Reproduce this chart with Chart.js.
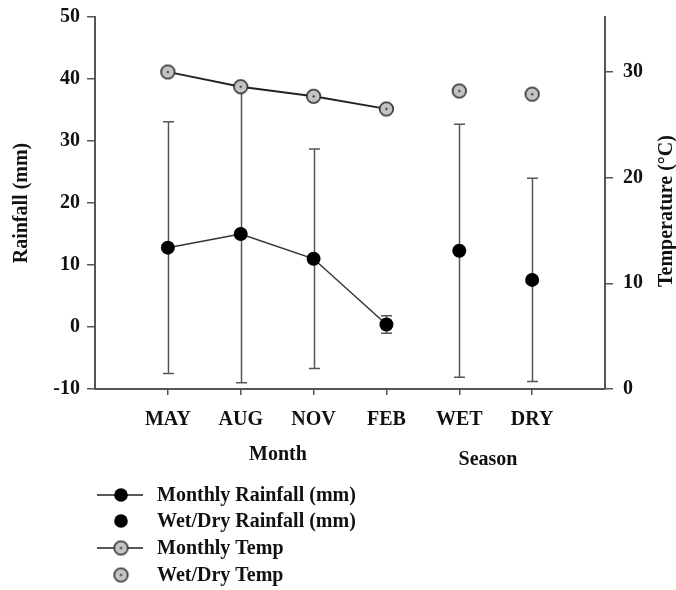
<!DOCTYPE html>
<html>
<head>
<meta charset="utf-8">
<script src="https://cdn.jsdelivr.net/npm/chart.js@4/dist/chart.umd.min.js"></script>
<style>
  html, body { margin: 0; padding: 0; background: #fff; }
  #wrap { width: 676px; height: 590px; }
</style>
</head>
<body>
<div id="wrap"><canvas id="rainTempChart" width="676" height="590"></canvas></div>
<script>
// categories on the x axis
const months = ['MAY', 'AUG', 'NOV', 'FEB'];
const seasons = ['WET', 'DRY'];
const tickLabels = months.concat(seasons);
const monthPos = [1, 2, 3, 4];
const seasonPos = [5, 6];

// rainfall (mm) with +/- error
const monthlyRain = [12.8, 15.0, 11.0, 0.4];
const monthlyRainErr = [20.3, 24.0, 17.7, 1.4];
const seasonRain = [12.3, 7.6];
const seasonRainErr = [20.4, 16.4];

// temperature (deg C)
const monthlyTemp = [30.0, 28.6, 27.7, 26.5];
const seasonTemp = [28.2, 27.9];

const rainTicks = [-10, 0, 10, 20, 30, 40, 50];
const tempTicks = [0, 10, 20, 30];

const serif = '"Liberation Serif", "Times New Roman", serif';
const axisColor = '#555';

// grey circle with a dot in the middle, used for the temperature points
function tempMarker() {
    const c = document.createElement('canvas');
    c.width = 17; c.height = 17;
    const g = c.getContext('2d');
    g.beginPath();
    g.arc(8.5, 8.5, 6.8, 0, Math.PI * 2);
    g.fillStyle = '#c4c4c4';
    g.fill();
    g.lineWidth = 1.6;
    g.strokeStyle = '#2a2a2a';
    g.stroke();
    g.beginPath();
    g.arc(8.5, 8.5, 1.1, 0, Math.PI * 2);
    g.fillStyle = '#111';
    g.fill();
    return c;
}
const tempStyle = tempMarker();

const pts = (xs, ys) => ys.map((v, i) => ({ x: xs[i], y: v }));

// fixed side widths so the plot box lines up; drop the label overhang padding
const fixWidth = w => s => { s.width = w; s.paddingTop = 0; s.paddingBottom = 0; };

const errorBars = {
    id: 'errorBars',
    beforeDatasetsDraw(chart) {
        const { ctx, scales: { x, y } } = chart;
        ctx.save();
        ctx.strokeStyle = axisColor;
        ctx.lineWidth = 1.5;
        const groups = [[monthPos, monthlyRain, monthlyRainErr], [seasonPos, seasonRain, seasonRainErr]];
        groups.forEach(([pos, vals, errs]) => {
            vals.forEach((v, i) => {
                const px = Math.round(x.getPixelForValue(pos[i])) + 0.5;
                const top = y.getPixelForValue(v + errs[i]);
                const bot = y.getPixelForValue(v - errs[i]);
                ctx.beginPath();
                ctx.moveTo(px, top); ctx.lineTo(px, bot);
                ctx.moveTo(px - 5.5, top); ctx.lineTo(px + 5.5, top);
                ctx.moveTo(px - 5.5, bot); ctx.lineTo(px + 5.5, bot);
                ctx.stroke();
            });
        });
        ctx.restore();
    }
};

// group titles under the x axis, right axis title and the legend block
const extras = {
    id: 'extras',
    afterDraw(chart) {
        const { ctx } = chart;
        ctx.save();
        ctx.fillStyle = '#111';
        ctx.font = 'bold 20px ' + serif;
        ctx.textAlign = 'center';
        ctx.textBaseline = 'middle';
        ctx.fillText('Month', 278, 455);
        ctx.fillText('Season', 488, 460);

        ctx.save();
        ctx.translate(667, 211);
        ctx.rotate(-Math.PI / 2);
        ctx.fillText('Temperature (\u00B0C)', 0, 0);
        ctx.restore();

        const rows = [495, 521, 548, 575];
        chart.data.datasets.forEach((ds, i) => {
            const cy = rows[i];
            if (ds.showLine !== false) {
                ctx.strokeStyle = '#222';
                ctx.lineWidth = 1.5;
                ctx.beginPath();
                ctx.moveTo(97, cy); ctx.lineTo(143, cy);
                ctx.stroke();
            }
            if (ds.pointStyle === tempStyle) {
                ctx.drawImage(tempStyle, 121 - 8.5, cy - 8.5);
            } else {
                ctx.beginPath();
                ctx.arc(121, cy, 6.8, 0, Math.PI * 2);
                ctx.fillStyle = '#000';
                ctx.fill();
            }
            ctx.fillStyle = '#111';
            ctx.textAlign = 'left';
            ctx.fillText(ds.label, 157, cy + 1);
        });
        ctx.restore();
    }
};

new Chart(document.getElementById('rainTempChart'), {
    type: 'scatter',
    data: {
        datasets: [{
            label: 'Monthly Rainfall (mm)',
            data: pts(monthPos, monthlyRain),
            yAxisID: 'y',
            showLine: true,
            borderColor: '#333',
            borderWidth: 1.5,
            pointBackgroundColor: '#000',
            pointBorderColor: '#000',
            pointRadius: 7,
            pointBorderWidth: 0
        }, {
            label: 'Wet/Dry Rainfall (mm)',
            data: pts(seasonPos, seasonRain),
            yAxisID: 'y',
            showLine: false,
            pointBackgroundColor: '#000',
            pointBorderColor: '#000',
            pointRadius: 7,
            pointBorderWidth: 0
        }, {
            label: 'Monthly Temp',
            data: pts(monthPos, monthlyTemp),
            yAxisID: 'y1',
            showLine: true,
            borderColor: '#222',
            borderWidth: 1.8,
            pointStyle: tempStyle
        }, {
            label: 'Wet/Dry Temp',
            data: pts(seasonPos, seasonTemp),
            yAxisID: 'y1',
            showLine: false,
            pointStyle: tempStyle
        }]
    },
    options: {
        responsive: false,
        animation: false,
        layout: { padding: { top: 17, left: 0, right: 0, bottom: 0 } },
        plugins: {
            legend: { display: false },
            tooltip: { enabled: false }
        },
        scales: {
            x: {
                type: 'linear',
                min: 0,
                max: 7,
                afterBuildTicks: s => { s.ticks = tickLabels.map((_, i) => ({ value: i + 1 })); },
                afterFit: s => { s.height = 201; s.paddingLeft = 0; s.paddingRight = 0; },
                border: { color: axisColor, width: 2 },
                grid: { drawOnChartArea: false, drawTicks: true, tickLength: 6, color: axisColor, lineWidth: 1.5 },
                ticks: {
                    autoSkip: false,
                    maxRotation: 0,
                    padding: 13,
                    color: '#111',
                    font: { family: serif, size: 20, weight: 'bold' },
                    callback: v => tickLabels[v - 1] || ''
                }
            },
            y: {
                position: 'left',
                min: -10,
                max: 50,
                afterBuildTicks: s => { s.ticks = rainTicks.map(v => ({ value: v })); },
                afterFit: fixWidth(95),
                border: { color: axisColor, width: 2 },
                grid: { drawOnChartArea: false, drawTicks: true, tickLength: 8, color: axisColor, lineWidth: 1.5 },
                ticks: {
                    padding: 7,
                    color: '#111',
                    font: { family: serif, size: 20, weight: 'bold' }
                },
                title: {
                    display: true,
                    text: 'Rainfall (mm)',
                    color: '#111',
                    padding: { top: 10, bottom: 0 },
                    font: { family: serif, size: 20, weight: 'bold' }
                }
            },
            y1: {
                position: 'right',
                min: 0,
                max: 35.2,
                afterBuildTicks: s => { s.ticks = tempTicks.map(v => ({ value: v })); },
                afterFit: fixWidth(71),
                border: { color: axisColor, width: 2 },
                grid: { drawOnChartArea: false, drawTicks: true, tickLength: 8, color: axisColor, lineWidth: 1.5 },
                ticks: {
                    padding: 10,
                    color: '#111',
                    font: { family: serif, size: 20, weight: 'bold' }
                }
            }
        }
    },
    plugins: [errorBars, extras]
});
</script>
</body>
</html>
